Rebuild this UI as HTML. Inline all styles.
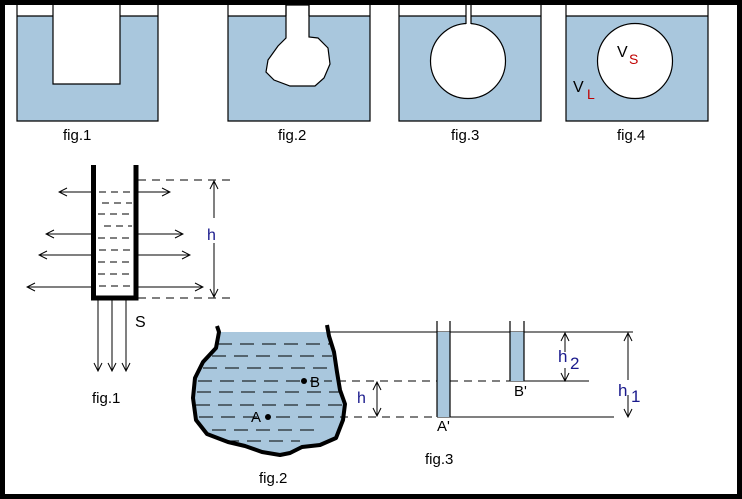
<!DOCTYPE html>
<html><head><meta charset="utf-8"><style>
html,body{margin:0;padding:0;background:#000}
svg{display:block}
text{font-family:"Liberation Sans",sans-serif}
</style></head><body>
<svg width="742" height="499" viewBox="0 0 742 499" xmlns="http://www.w3.org/2000/svg">
<defs>
<marker id="ao" markerWidth="10" markerHeight="10" refX="9" refY="5" orient="auto" markerUnits="userSpaceOnUse"><path d="M1,1 L9,5 L1,9" fill="none" stroke="#000" stroke-width="1"/></marker>
</defs>
<rect x="0" y="0" width="742" height="499" fill="#000"/>
<rect x="5" y="5" width="732" height="489" fill="#fff"/>
<g stroke="#000" stroke-width="1.2">
<rect x="17" y="16" width="141" height="105" fill="#a9c7dd" stroke="none"/>
<rect x="53" y="5" width="67" height="79" fill="#fff" stroke="none"/>
<path d="M17,5 V121 H158 V5 M17,16 H53 M120,16 H158 M53,5 V84 H120 V5" fill="none"/>
<rect x="228" y="16" width="142" height="105" fill="#a9c7dd" stroke="none"/>
<path d="M286,5 V38 L278,46 L268,60 L266,72 L274,80 L290,86 L315,86 L324,78 L330,64 L328,48 L318,38 L309,37 V5 Z" fill="#fff"/>
<path d="M228,5 V121 H370 V5 M228,16 H286 M309,16 H370" fill="none"/>
<path d="M286,5 V16 M309,5 V16" fill="none"/>
<rect x="399" y="16" width="142" height="105" fill="#a9c7dd" stroke="none"/>
<circle cx="468" cy="61" r="37.5" fill="#fff"/>
<rect x="466" y="5" width="5" height="20" fill="#fff" stroke="none"/>
<path d="M399,5 V121 H541 V5 M399,16 H466 M471,16 H541 M466,5 V24 M471,5 V24" fill="none"/>
<rect x="566" y="16" width="142" height="105" fill="#a9c7dd" stroke="none"/>
<circle cx="635" cy="61" r="37.5" fill="#fff"/>
<path d="M566,5 V121 H708 V5 M566,16 H708" fill="none"/>
</g>
<g font-size="15" fill="#000">
<text x="63" y="140">fig.1</text>
<text x="278" y="140">fig.2</text>
<text x="451" y="140">fig.3</text>
<text x="617" y="140">fig.4</text>
</g>
<text x="617" y="57" font-size="16" fill="#000">V</text><text x="629" y="64" font-size="14" fill="#c00000">S</text>
<text x="573" y="92" font-size="16" fill="#000">V</text><text x="587" y="99" font-size="14" fill="#c00000">L</text>

<g stroke="#000" stroke-width="1" fill="none">
<path d="M99,192 H134 M102,203 H132 M98,214 H134 M104,226 H132 M98,238 H134 M99,250 H134 M98,262 H134 M98,274 H134 M99,286 H134" stroke-dasharray="7,5"/>
<path d="M138,180 H230 M138,298 H230" stroke-dasharray="8,6"/>
<path d="M92,192 H59" marker-end="url(#ao)"/><path d="M138,192 H170" marker-end="url(#ao)"/>
<path d="M92,234 H46" marker-end="url(#ao)"/><path d="M138,234 H183" marker-end="url(#ao)"/>
<path d="M92,255 H39" marker-end="url(#ao)"/><path d="M138,255 H190" marker-end="url(#ao)"/>
<path d="M92,287 H27" marker-end="url(#ao)"/><path d="M138,287 H203" marker-end="url(#ao)"/>
<path d="M214,218 V181" marker-end="url(#ao)"/><path d="M214,243 V297" marker-end="url(#ao)"/>
<path d="M98,300 V371" marker-end="url(#ao)"/><path d="M112,300 V371" marker-end="url(#ao)"/><path d="M126,300 V371" marker-end="url(#ao)"/>
</g>
<path d="M93.5,165 V298 H136 V165" fill="none" stroke="#000" stroke-width="5"/>
<text x="207" y="240" font-size="16" fill="#1a1a8c">h</text>
<text x="135" y="327" font-size="16" fill="#000">S</text>
<text x="92" y="403" font-size="15" fill="#000">fig.1</text>

<path d="M219,332 L216,348 L203,362 L195,378 L193,398 L196,420 L207,434 L228,442 L245,446 L262,452 L280,455 L290,453 L302,447 L320,445 L336,438 L343,420 L345,404 L340,390 L337,372 L334,352 L329,336 L328,332 Z" fill="#a9c7dd" stroke="none"/>
<path d="M217,326 L219,332 L216,348 L203,362 L195,378 L193,398 L196,420 L207,434 L228,442 L245,446 L262,452 L280,455 L290,453 L302,447 L320,445 L336,438 L343,420 L345,404 L340,390 L337,372 L334,352 L329,336 L327,325" fill="none" stroke="#000" stroke-width="4" stroke-linejoin="round"/>
<g stroke="#000" stroke-width="1">
<path d="M218,344 H330 M212,356 H332 M203,368 H334 M198,381 H300 M197,392 H340 M196,405 H342 M199,417 H260 M276,417 H340 M212,430 H320 M225,441 H300" stroke-dasharray="14,8"/>
<path d="M328,332 H633"/>
<path d="M310,381 H510" stroke-dasharray="8,6"/><path d="M510,381 H589"/>
<path d="M340,417 H437" stroke-dasharray="8,6"/><path d="M437,417 H614"/>
</g>
<circle cx="304" cy="381" r="3" fill="#000"/>
<circle cx="268" cy="417" r="3" fill="#000"/>
<text x="310" y="387" font-size="15" fill="#000">B</text>
<text x="251" y="422" font-size="15" fill="#000">A</text>
<g stroke="#000" stroke-width="1" fill="none">
<path d="M377,399 V382" marker-end="url(#ao)"/><path d="M377,399 V416" marker-end="url(#ao)"/>
</g>
<text x="357" y="403" font-size="16" fill="#1a1a8c">h</text>
<text x="259" y="483" font-size="15" fill="#000">fig.2</text>

<rect x="437" y="332" width="13" height="85" fill="#a9c7dd"/>
<rect x="510" y="332" width="14" height="49" fill="#a9c7dd"/>
<g stroke="#000" stroke-width="1.2" fill="none">
<path d="M437,321 V417 M450,321 V417 M510,321 V381 M524,321 V381"/>
</g>
<g stroke="#000" stroke-width="1" fill="none">
<path d="M565,352 V333" marker-end="url(#ao)"/><path d="M565,368 V381" marker-end="url(#ao)"/>
<path d="M628,380 V333" marker-end="url(#ao)"/><path d="M628,395 V417" marker-end="url(#ao)"/>
</g>
<text x="558" y="362" font-size="17" fill="#1a1a8c">h</text><text x="570" y="369" font-size="17" fill="#1a1a8c">2</text>
<text x="618" y="396" font-size="17" fill="#1a1a8c">h</text><text x="631" y="402" font-size="17" fill="#1a1a8c">1</text>
<text x="514" y="396" font-size="15" fill="#000">B'</text>
<text x="437" y="431" font-size="15" fill="#000">A'</text>
<text x="425" y="464" font-size="15" fill="#000">fig.3</text>
</svg>
</body></html>
